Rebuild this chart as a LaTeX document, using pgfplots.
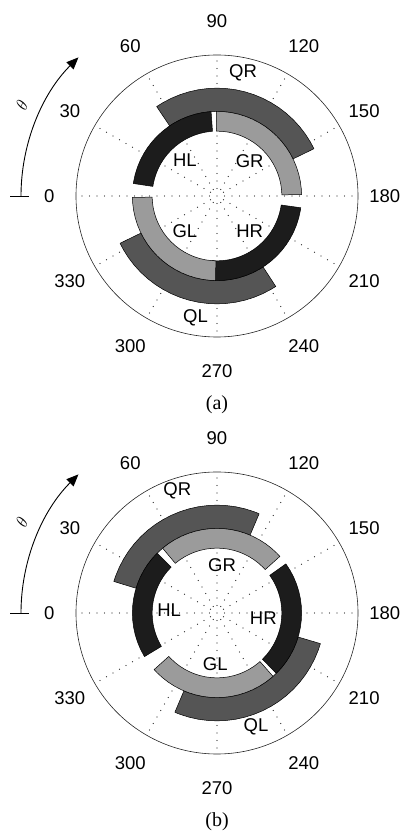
\documentclass[border=0pt]{standalone}
\usepackage{fontspec}
\setmainfont{Liberation Sans}
\newfontfamily\capfont{Liberation Serif}
\usepackage{pgfplots}
\pgfplotsset{compat=1.18}
\usepgfplotslibrary{polar}
\usetikzlibrary{arrows.meta}
\definecolor{dk}{HTML}{1C1C1C}
\definecolor{md}{HTML}{555555}
\definecolor{lt}{HTML}{9B9B9B}
\pgfplotsset{
  mypolar/.style={
    anchor=center, scale only axis, width=282pt, height=282pt,
    ymin=0, ymax=1,
    xtick={0,30,...,330}, xticklabel=\empty, ytick=\empty,
    major tick length=0pt,
    xmajorgrids,
    major x grid style={black!85, line width=1.3pt, line cap=round, dash pattern=on 0pt off 7.5pt},
    axis line style={black!85, line width=0.6pt},
    y axis line style={draw=none},
    clip=false,
  },
  band/.style={draw=black, line width=0.5pt, mark=none},
}
\newcommand{\tl}{\fontsize{18.5}{20}\selectfont}
\begin{document}
\begin{tikzpicture}
\useasboundingbox (0,0) rectangle (403pt,833pt);
% ---------------- panel (a) ----------------
\begin{polaraxis}[mypolar, at={(217pt,637pt)}]
\addplot[band, fill=md] coordinates {(26,.765)(30,.765)(35,.765)(40,.765)(45,.765)(50,.765)(55,.765)(60,.765)(65,.765)(70,.765)(75,.765)(80,.765)(85,.765)(90,.765)(95,.765)(100,.765)(105,.765)(110,.765)(115,.765)(120,.765)(124,.765)
(124,.6)(120,.6)(115,.6)(110,.6)(105,.6)(100,.6)(95,.6)(90,.6)(85,.6)(80,.6)(75,.6)(70,.6)(65,.6)(60,.6)(55,.6)(50,.6)(45,.6)(40,.6)(35,.6)(30,.6)(26,.6)(26,.765)};
\addplot[band, fill=md] coordinates {(-154,.765)(-150,.765)(-145,.765)(-140,.765)(-135,.765)(-130,.765)(-125,.765)(-120,.765)(-115,.765)(-110,.765)(-105,.765)(-100,.765)(-95,.765)(-90,.765)(-85,.765)(-80,.765)(-75,.765)(-70,.765)(-65,.765)(-60,.765)(-57,.765)
(-57,.6)(-60,.6)(-65,.6)(-70,.6)(-75,.6)(-80,.6)(-85,.6)(-90,.6)(-95,.6)(-100,.6)(-105,.6)(-110,.6)(-115,.6)(-120,.6)(-125,.6)(-130,.6)(-135,.6)(-140,.6)(-145,.6)(-150,.6)(-154,.6)(-154,.765)};
\addplot[band, fill=dk] coordinates {(94,.6)(95,.6)(100,.6)(105,.6)(110,.6)(115,.6)(120,.6)(125,.6)(130,.6)(135,.6)(140,.6)(145,.6)(150,.6)(155,.6)(160,.6)(165,.6)(170,.6)(171.5,.6)
(171.5,.46)(170,.46)(165,.46)(160,.46)(155,.46)(150,.46)(145,.46)(140,.46)(135,.46)(130,.46)(125,.46)(120,.46)(115,.46)(110,.46)(105,.46)(100,.46)(95,.46)(94,.46)(94,.6)};
\addplot[band, fill=lt] coordinates {(1,.6)(5,.6)(10,.6)(15,.6)(20,.6)(25,.6)(30,.6)(35,.6)(40,.6)(45,.6)(50,.6)(55,.6)(60,.6)(65,.6)(70,.6)(75,.6)(80,.6)(85,.6)(90.5,.6)
(90.5,.46)(85,.46)(80,.46)(75,.46)(70,.46)(65,.46)(60,.46)(55,.46)(50,.46)(45,.46)(40,.46)(35,.46)(30,.46)(25,.46)(20,.46)(15,.46)(10,.46)(5,.46)(1,.46)(1,.6)};
\addplot[band, fill=dk] coordinates {(-94.5,.6)(-90,.6)(-85,.6)(-80,.6)(-75,.6)(-70,.6)(-65,.6)(-60,.6)(-55,.6)(-50,.6)(-45,.6)(-40,.6)(-35,.6)(-30,.6)(-25,.6)(-20,.6)(-15,.6)(-10,.6)(-8,.6)
(-8,.46)(-10,.46)(-15,.46)(-20,.46)(-25,.46)(-30,.46)(-35,.46)(-40,.46)(-45,.46)(-50,.46)(-55,.46)(-60,.46)(-65,.46)(-70,.46)(-75,.46)(-80,.46)(-85,.46)(-90,.46)(-94.5,.46)(-94.5,.6)};
\addplot[band, fill=lt] coordinates {(-179,.6)(-175,.6)(-170,.6)(-165,.6)(-160,.6)(-155,.6)(-150,.6)(-145,.6)(-140,.6)(-135,.6)(-130,.6)(-125,.6)(-120,.6)(-115,.6)(-110,.6)(-105,.6)(-100,.6)(-95,.6)(-91,.6)
(-91,.46)(-95,.46)(-100,.46)(-105,.46)(-110,.46)(-115,.46)(-120,.46)(-125,.46)(-130,.46)(-135,.46)(-140,.46)(-145,.46)(-150,.46)(-155,.46)(-160,.46)(-165,.46)(-170,.46)(-175,.46)(-179,.46)(-179,.6)};
\node[font=\tl] at (axis cs:78,.89) {QR};
\node[font=\tl] at (axis cs:132,.34) {HL};
\node[font=\tl] at (axis cs:47,.34) {GR};
\node[font=\tl] at (axis cs:228,.34) {GL};
\node[font=\tl] at (axis cs:313,.34) {HR};
\node[font=\tl] at (axis cs:260,.88) {QL};
\node[font=\tl] at (axis cs:180,1.19) {0};
\node[font=\tl] at (axis cs:150,1.205) {30};
\node[font=\tl] at (axis cs:120,1.23) {60};
\node[font=\tl] at (axis cs:90,1.24) {90};
\node[font=\tl] at (axis cs:60,1.23) {120};
\node[font=\tl] at (axis cs:30,1.205) {150};
\node[font=\tl] at (axis cs:0,1.19) {180};
\node[font=\tl] at (axis cs:-30,1.205) {210};
\node[font=\tl] at (axis cs:-60,1.23) {240};
\node[font=\tl] at (axis cs:-90,1.24) {270};
\node[font=\tl] at (axis cs:-120,1.23) {300};
\node[font=\tl] at (axis cs:-150,1.205) {330};
\end{polaraxis}
% ---------------- panel (b) ----------------
\begin{polaraxis}[mypolar, at={(217pt,220pt)}]
\addplot[band, fill=md] coordinates {(67,.765)(70,.765)(75,.765)(80,.765)(85,.765)(90,.765)(95,.765)(100,.765)(105,.765)(110,.765)(115,.765)(120,.765)(125,.765)(130,.765)(135,.765)(140,.765)(145,.765)(150,.765)(155,.765)(160,.765)(163,.765)
(163,.6)(160,.6)(155,.6)(150,.6)(145,.6)(140,.6)(135,.6)(130,.6)(125,.6)(120,.6)(115,.6)(110,.6)(105,.6)(100,.6)(95,.6)(90,.6)(85,.6)(80,.6)(75,.6)(70,.6)(67,.6)(67,.765)};
\addplot[band, fill=md] coordinates {(-113,.765)(-110,.765)(-105,.765)(-100,.765)(-95,.765)(-90,.765)(-85,.765)(-80,.765)(-75,.765)(-70,.765)(-65,.765)(-60,.765)(-55,.765)(-50,.765)(-45,.765)(-40,.765)(-35,.765)(-30,.765)(-25,.765)(-20,.765)(-16.5,.765)
(-16.5,.6)(-20,.6)(-25,.6)(-30,.6)(-35,.6)(-40,.6)(-45,.6)(-50,.6)(-55,.6)(-60,.6)(-65,.6)(-70,.6)(-75,.6)(-80,.6)(-85,.6)(-90,.6)(-95,.6)(-100,.6)(-105,.6)(-110,.6)(-113,.6)(-113,.765)};
\addplot[band, fill=dk] coordinates {(135,.6)(140,.6)(145,.6)(150,.6)(155,.6)(160,.6)(165,.6)(170,.6)(175,.6)(180,.6)(185,.6)(190,.6)(195,.6)(200,.6)(205,.6)(210,.6)(211,.6)
(211,.46)(210,.46)(205,.46)(200,.46)(195,.46)(190,.46)(185,.46)(180,.46)(175,.46)(170,.46)(165,.46)(160,.46)(155,.46)(150,.46)(145,.46)(140,.46)(135,.46)(135,.6)};
\addplot[band, fill=lt] coordinates {(42,.6)(45,.6)(50,.6)(55,.6)(60,.6)(65,.6)(70,.6)(75,.6)(80,.6)(85,.6)(90,.6)(95,.6)(100,.6)(105,.6)(110,.6)(115,.6)(120,.6)(125,.6)(130,.6)
(130,.46)(125,.46)(120,.46)(115,.46)(110,.46)(105,.46)(100,.46)(95,.46)(90,.46)(85,.46)(80,.46)(75,.46)(70,.46)(65,.46)(60,.46)(55,.46)(50,.46)(45,.46)(42,.46)(42,.6)};
\addplot[band, fill=dk] coordinates {(-45.5,.6)(-40,.6)(-35,.6)(-30,.6)(-25,.6)(-20,.6)(-15,.6)(-10,.6)(-5,.6)(0,.6)(5,.6)(10,.6)(15,.6)(20,.6)(25,.6)(30,.6)(35.5,.6)
(35.5,.46)(30,.46)(25,.46)(20,.46)(15,.46)(10,.46)(5,.46)(0,.46)(-5,.46)(-10,.46)(-15,.46)(-20,.46)(-25,.46)(-30,.46)(-35,.46)(-40,.46)(-45.5,.46)(-45.5,.6)};
\addplot[band, fill=lt] coordinates {(-138,.6)(-135,.6)(-130,.6)(-125,.6)(-120,.6)(-115,.6)(-110,.6)(-105,.6)(-100,.6)(-95,.6)(-90,.6)(-85,.6)(-80,.6)(-75,.6)(-70,.6)(-65,.6)(-60,.6)(-55,.6)(-50,.6)(-48.5,.6)
(-48.5,.46)(-50,.46)(-55,.46)(-60,.46)(-65,.46)(-70,.46)(-75,.46)(-80,.46)(-85,.46)(-90,.46)(-95,.46)(-100,.46)(-105,.46)(-110,.46)(-115,.46)(-120,.46)(-125,.46)(-130,.46)(-135,.46)(-138,.46)(-138,.6)};
\node[font=\tl] at (axis cs:108,.91) {QR};
\node[font=\tl] at (axis cs:84,.34) {GR};
\node[font=\tl] at (axis cs:176,.34) {HL};
\node[font=\tl] at (axis cs:-6,.33) {HR};
\node[font=\tl] at (axis cs:-92,.36) {GL};
\node[font=\tl] at (axis cs:-71,.85) {QL};
\node[font=\tl] at (axis cs:180,1.19) {0};
\node[font=\tl] at (axis cs:150,1.205) {30};
\node[font=\tl] at (axis cs:120,1.23) {60};
\node[font=\tl] at (axis cs:90,1.24) {90};
\node[font=\tl] at (axis cs:60,1.23) {120};
\node[font=\tl] at (axis cs:30,1.205) {150};
\node[font=\tl] at (axis cs:0,1.19) {180};
\node[font=\tl] at (axis cs:-30,1.205) {210};
\node[font=\tl] at (axis cs:-60,1.23) {240};
\node[font=\tl] at (axis cs:-90,1.24) {270};
\node[font=\tl] at (axis cs:-120,1.23) {300};
\node[font=\tl] at (axis cs:-150,1.205) {330};
\end{polaraxis}
% theta arrows
\foreach \cy in {637pt,220pt}{
  \draw[line width=0.9pt, -{Triangle[length=12pt,width=10pt]}] (21pt,\cy) arc[start angle=180,end angle=135,radius=196pt];
  \draw[line width=0.9pt] (10pt,\cy) -- (29pt,\cy);
  \node[rotate=65, font=\fontsize{17}{17}\selectfont] at (22pt,\cy+91pt) {$\theta$};
}
\node[font=\capfont\fontsize{20}{22}\selectfont] at (217pt,428pt) {(a)};
\node[font=\capfont\fontsize{20}{22}\selectfont] at (217pt,11.5pt) {(b)};
\end{tikzpicture}
\end{document}
